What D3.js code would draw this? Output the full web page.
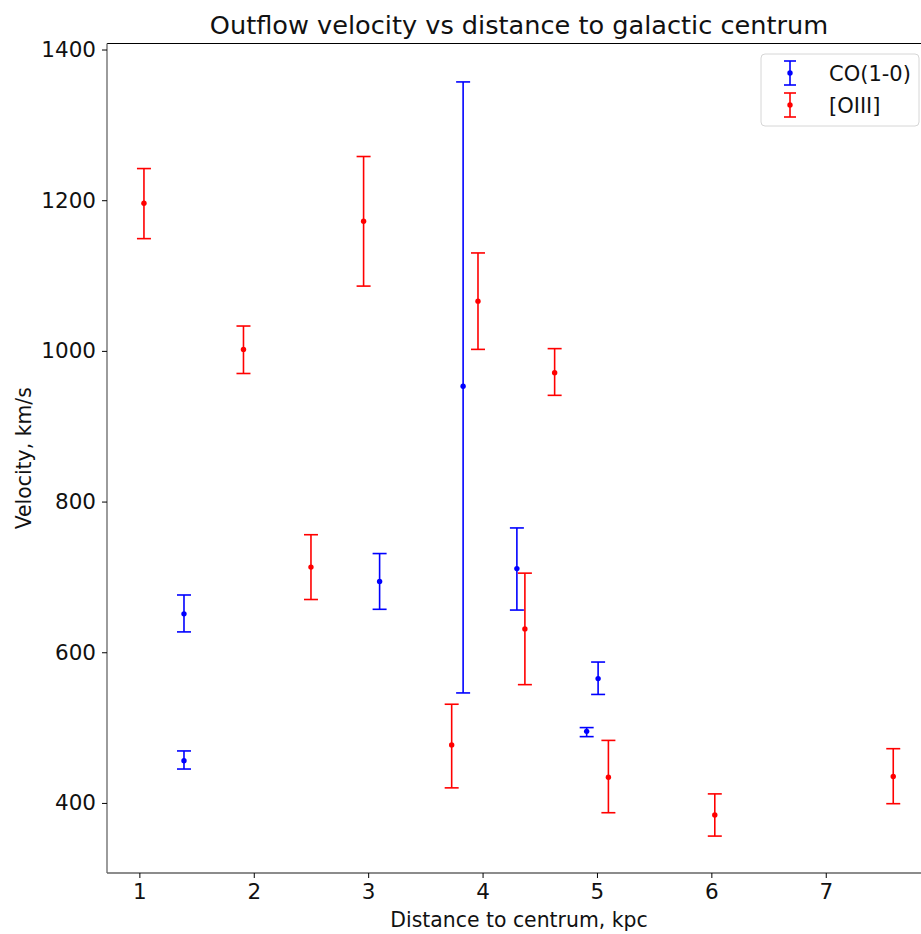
<!DOCTYPE html>
<html><head><meta charset="utf-8">
<script src="https://cdn.jsdelivr.net/npm/d3@7"></script>
<style>body{margin:0;background:#fff}svg{display:block;font-family:"DejaVu Sans",sans-serif}</style>
</head><body><svg id="c" width="921" height="934"></svg>
<script>
// [OIII]
const oiiiX = [1.04, 1.91, 2.50, 2.96, 3.73, 3.96, 4.37, 4.63, 5.10, 6.03, 7.59];
const oiiiY = [1196, 1002, 713, 1172, 477, 1066, 631, 971, 434, 384, 435];
const oiiiLo = [1149, 970, 670, 1086, 420, 1002, 557, 941, 387, 356, 399];
const oiiiHi = [1242, 1033, 756, 1258, 531, 1130, 705, 1003, 483, 412, 472];
// CO(1-0)
const coX = [1.39, 1.39, 3.10, 3.83, 4.30, 4.91, 5.01];
const coY = [651, 456, 694, 953, 711, 495, 565];
const coLo = [627, 445, 657, 546, 656, 488, 544];
const coHi = [676, 469, 731, 1357, 765, 500, 587];
const xTicks = [1, 2, 3, 4, 5, 6, 7];
const yTicks = [400, 600, 800, 1000, 1200, 1400];
const seriesNames = ["CO(1-0)", "[OIII]"];
const seriesColors = ["blue", "red"];

const svg = d3.select("#c");
const L = 107, R = 931, T = 43.5, B = 873;
const x = d3.scaleLinear().domain([0.717, 7.92]).range([L, R]);
const y = d3.scaleLinear().domain([307, 1408]).range([B, T]);

// spines
svg.append("line").attr("x1", L).attr("x2", R).attr("y1", T).attr("y2", T).attr("stroke", "#000").attr("stroke-width", 1.2);
svg.append("line").attr("x1", R).attr("x2", R).attr("y1", T).attr("y2", B).attr("stroke", "#000").attr("stroke-width", 1.2);

const xAxis = svg.append("g").attr("transform", `translate(0,${B})`)
  .call(d3.axisBottom(x).tickValues(xTicks).tickFormat(d3.format("d")).tickSizeOuter(0).tickSize(5).tickPadding(6));
const yAxis = svg.append("g").attr("transform", `translate(${L},0)`)
  .call(d3.axisLeft(y).tickValues(yTicks).tickFormat(d3.format("d")).tickSizeOuter(0).tickSize(5).tickPadding(6));
[xAxis, yAxis].forEach(g => {
  g.select(".domain").attr("stroke", "#666").attr("stroke-width", 1.3);
  g.selectAll(".tick line").attr("stroke", "#000").attr("stroke-width", 1);
  g.selectAll(".tick text").attr("font-size", 21.5).attr("font-family", "DejaVu Sans").attr("fill", "#111");
});
xAxis.select(".domain").attr("d", `M${L},0H${R}`);
yAxis.select(".domain").attr("d", `M0,${T}V${B}`);

function drawSeries(xs, ys, lo, hi, color) {
  const g = svg.append("g");
  const data = xs.map((v, i) => ({x: v, y: ys[i], lo: lo[i], hi: hi[i]}));
  const cw = 7;
  g.selectAll(".v").data(data).join("line")
    .attr("x1", d => x(d.x)).attr("x2", d => x(d.x)).attr("y1", d => y(d.lo)).attr("y2", d => y(d.hi))
    .attr("stroke", color).attr("stroke-width", 1.6);
  g.selectAll(".ch").data(data).join("line")
    .attr("x1", d => x(d.x) - cw).attr("x2", d => x(d.x) + cw).attr("y1", d => y(d.hi)).attr("y2", d => y(d.hi))
    .attr("stroke", color).attr("stroke-width", 1.6);
  g.selectAll(".cl").data(data).join("line")
    .attr("x1", d => x(d.x) - cw).attr("x2", d => x(d.x) + cw).attr("y1", d => y(d.lo)).attr("y2", d => y(d.lo))
    .attr("stroke", color).attr("stroke-width", 1.6);
  g.selectAll("circle").data(data).join("circle")
    .attr("cx", d => x(d.x)).attr("cy", d => y(d.y)).attr("r", 2.7).attr("fill", color);
}
drawSeries(coX, coY, coLo, coHi, seriesColors[0]);
drawSeries(oiiiX, oiiiY, oiiiLo, oiiiHi, seriesColors[1]);

// title and labels
svg.append("text").attr("x", (L + R) / 2).attr("y", 33.5).attr("text-anchor", "middle")
  .attr("font-size", 25.6).attr("fill", "#111").text("Outflow velocity vs distance to galactic centrum");
svg.append("text").attr("x", (L + R) / 2).attr("y", 926.5).attr("text-anchor", "middle")
  .attr("font-size", 20.4).attr("fill", "#111").text("Distance to centrum, kpc");
svg.append("text").attr("transform", `translate(31,${(T + B) / 2}) rotate(-90)`).attr("text-anchor", "middle")
  .attr("font-size", 20.4).attr("fill", "#111").text("Velocity, km/s");

// legend
const lg = svg.append("g").attr("transform", "translate(761,54)");
lg.append("rect").attr("width", 158).attr("height", 72).attr("rx", 4).attr("fill", "#fff")
  .attr("stroke", "#d6d6d6").attr("stroke-width", 1);
seriesNames.forEach((name, i) => {
  const cy = 19 + i * 32, cx = 29;
  const c = seriesColors[i];
  lg.append("line").attr("x1", cx).attr("x2", cx).attr("y1", cy - 12).attr("y2", cy + 12).attr("stroke", c).attr("stroke-width", 1.6);
  lg.append("line").attr("x1", cx - 6).attr("x2", cx + 6).attr("y1", cy - 12).attr("y2", cy - 12).attr("stroke", c).attr("stroke-width", 1.6);
  lg.append("line").attr("x1", cx - 6).attr("x2", cx + 6).attr("y1", cy + 12).attr("y2", cy + 12).attr("stroke", c).attr("stroke-width", 1.6);
  lg.append("circle").attr("cx", cx).attr("cy", cy).attr("r", 2.7).attr("fill", c);
  lg.append("text").attr("x", 68).attr("y", cy + 7.5).attr("font-size", 21).attr("fill", "#111").text(name);
});
</script></body></html>
